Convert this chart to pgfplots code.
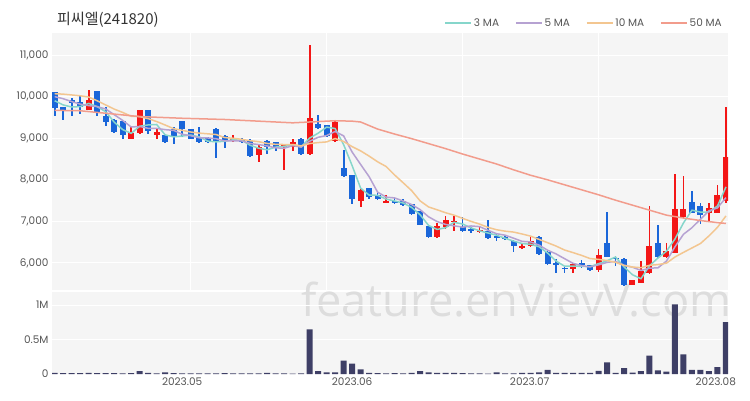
\documentclass[border=0pt]{standalone}
\usepackage{fontspec}
\setmainfont{Poppins}
\newfontfamily\kr{Noto Sans CJK KR}
\newfontfamily\wm{Open Sans}
\usepackage{graphicx}
\usepackage{pgfplots}
\usepackage{pgfplotstable}
\pgfplotsset{compat=1.18}

\definecolor{upred}{HTML}{F31616}
\definecolor{downblue}{HTML}{1A66D9}
\definecolor{maA}{HTML}{86D6CB}
\definecolor{maB}{HTML}{B6A2D2}
\definecolor{maC}{HTML}{F3C690}
\definecolor{maD}{HTML}{F29C8C}
\definecolor{bggray}{HTML}{F5F5F5}
\definecolor{volc}{HTML}{3E3F66}
\definecolor{tickgray}{HTML}{555555}
\definecolor{wmgray}{HTML}{DDDDDD}

% rising days: index, open, high, low, close, volume
\pgfplotstableread{
i o h l c v
4 9690 10170 9670 9910 15000
9 8990 9280 8970 9120 12000
10 9120 9690 9100 9670 40000
12 9070 9230 8970 9150 8000
21 8940 9070 8920 9010 8000
24 8600 8870 8420 8800 8000
27 8790 8870 8240 8850 8000
28 8780 8980 8700 8900 6000
30 8620 11230 8600 9490 648000
33 8940 9410 8920 9390 25000
36 7490 7810 7350 7760 68000
39 7450 7630 7440 7490 10000
45 6620 6960 6610 6880 15000
46 6870 7140 6820 7040 15000
47 6990 7120 6760 7010 15000
50 6740 6890 6720 6800 8000
55 6360 6450 6340 6420 15000
56 6400 6640 6380 6530 15000
61 5850 6010 5770 5970 15000
64 5820 6330 5790 6190 45000
68 5480 5600 5460 5580 20000
69 5530 6040 5520 5800 40000
70 5760 7370 5740 6420 266000
72 6140 6480 6120 6290 34000
73 6250 8150 6230 7300 1010000
74 7100 8090 7080 7300 285000
77 7200 7440 6990 7310 40000
78 7210 7880 7200 7640 100000
79 7490 9760 7450 8540 754000
}\upc

% falling days
\pgfplotstableread{
i o h l c v
0 10120 10120 9530 9730 15000
1 9750 9760 9440 9680 12000
2 9920 9970 9530 9840 12000
3 9870 10010 9590 9760 14000
5 10130 10130 9530 9610 12000
6 9530 9760 9290 9390 14000
7 9430 9470 9120 9160 12000
8 9410 9410 8970 9070 10000
11 9690 9690 9100 9170 15000
13 9070 9110 8880 8920 25000
14 9210 9270 8860 9030 12000
15 9410 9410 9040 9210 10000
16 9210 9230 8970 8990 10000
17 9030 9270 8890 8900 8000
18 9000 9030 8890 8900 8000
19 9230 9240 8530 8940 10000
20 9050 9070 8770 8940 12000
22 8990 9000 8890 8900 8000
23 8940 8970 8560 8580 10000
25 8940 8960 8610 8780 15000
26 8900 8900 8700 8780 8000
29 8980 9000 8600 8620 8000
31 9350 9570 9220 9250 40000
32 9310 9310 9040 9060 25000
34 8290 8710 8070 8090 193000
35 8110 8110 7410 7550 149000
37 7800 7800 7550 7590 15000
38 7630 7680 7510 7530 12000
40 7500 7560 7410 7450 12000
41 7490 7530 7370 7390 10000
42 7410 7420 7150 7170 15000
43 7250 7260 6910 6920 40000
44 6900 6910 6610 6620 25000
48 6860 7110 6750 6760 12000
49 6820 6860 6720 6760 10000
51 6760 7040 6580 6600 5000
52 6660 6700 6530 6600 25000
53 6620 6650 6560 6580 8000
54 6530 6560 6270 6400 8000
57 6620 6640 6200 6220 25000
58 6270 6290 5950 5970 60000
59 5990 6090 5770 5950 15000
60 5890 5930 5770 5850 15000
62 5990 6070 5870 5940 15000
63 5940 5950 5810 5820 15000
65 6480 7220 6140 6150 170000
66 6130 6170 5920 6090 15000
67 6090 6110 5450 5480 87000
71 6480 6910 6120 6140 54000
75 7460 7720 7200 7210 59000
76 7360 7440 6930 7160 59000
}\dnc

% moving averages 3, 5, 10
\pgfplotstableread{
i m3 m5 m10
0 9900 10000 10070
1 9800 9950 10060
2 9750 9880 10040
3 9760 9820 10020
4 9837 9784 9990
5 9760 9760 9900
6 9637 9702 9800
7 9387 9566 9700
8 9207 9428 9620
9 9117 9270 9527
10 9287 9282 9521
11 9320 9238 9470
12 9330 9236 9401
13 9080 9206 9317
14 9033 9188 9229
15 9053 9096 9189
16 9077 9060 9149
17 9033 9010 9123
18 8930 9006 9106
19 8913 8988 9088
20 8927 8934 9015
21 8963 8938 8999
22 8950 8938 8974
23 8830 8874 8940
24 8760 8846 8917
25 8720 8814 8874
26 8787 8768 8853
27 8803 8758 8848
28 8843 8822 8848
29 8790 8786 8816
30 9003 8928 8871
31 9120 9022 8895
32 9267 9064 8911
33 9233 9162 8992
34 8847 9056 8921
35 8343 8668 8798
36 7800 8370 8696
37 7633 8076 8570
38 7627 7704 8433
39 7537 7584 8320
40 7490 7564 8116
41 7443 7490 7930
42 7337 7406 7741
43 7160 7284 7494
44 6903 7110 7347
45 6807 6996 7280
46 6847 6926 7208
47 6977 6894 7150
48 6937 6862 7073
49 6843 6890 7000
50 6773 6874 6935
51 6720 6786 6856
52 6667 6704 6799
53 6593 6668 6765
54 6527 6596 6743
55 6467 6520 6697
56 6450 6506 6646
57 6390 6430 6567
58 6240 6308 6488
59 6047 6218 6407
60 5923 6104 6312
61 5923 5992 6249
62 5920 5936 6183
63 5910 5906 6107
64 5983 5954 6086
65 6053 6014 6059
66 6143 6038 6015
67 5907 5946 5941
68 5717 5898 5902
69 5620 5820 5887
70 5933 5874 5944
71 6120 5884 5961
72 6283 6046 5996
73 6577 6390 6144
74 6963 6690 6255
75 7270 6848 6361
76 7223 7052 6468
77 7227 7256 6651
78 7370 7324 6857
79 7830 7572 7131
}\mas

% 50 day average
\pgfplotstableread{
i m50
0 9670
3 9660
6 9600
10 9520
15 9480
20 9450
25 9400
28 9370
31 9400
33 9420
35 9410
36 9390
38 9220
40 9100
42 8990
44 8870
46 8750
48 8620
50 8500
52 8380
54 8240
56 8110
58 8000
60 7880
62 7760
64 7640
66 7510
68 7390
70 7270
72 7150
74 7080
76 7020
78 6970
79 6950
}\maslow

\pgfplotsset{
  candle/.style 2 args={draw=none, forget plot,
    error bars/.cd, y dir=both, y explicit, error mark=none,
    error bar style={draw=#1, line width=#2}, /pgfplots/.cd},
}

\begin{document}
\begin{tikzpicture}
\path (0,0) rectangle (750pt,400pt);
% panel backgrounds and watermark, below the axes
\fill[bggray] (52pt,110pt) rectangle (728pt,367pt);
\fill[bggray] (52pt,26pt) rectangle (728pt,108pt);
\node[anchor=base west, inner sep=0pt, text=wmgray] at (301pt,84pt)
    {\resizebox{430pt}{!}{\wm feature.enVievV.com}};

\node[anchor=west, text=black!80, font=\kr\fontsize{15}{18}\selectfont, inner sep=0pt] at (57pt,380pt) {피씨엘(241820)};

\begin{axis}[
    at={(52pt,110pt)}, anchor=south west,
    scale only axis, width=676pt, height=257pt,
    xmin=-0.32, xmax=79.24,
    ymin=5350, ymax=11530,
    axis line style={draw=none},
    major tick length=0pt,
    xtick={16,32,48,64}, xticklabels={},
    ytick={6000,7000,8000,9000,10000,11000},
    scaled y ticks=false,
    xmajorgrids, ymajorgrids,
    grid style={white, line width=1pt},
    yticklabel style={font=\fontsize{10.5}{12}\selectfont, text=tickgray,
        /pgf/number format/.cd, fixed, precision=0, 1000 sep={,}, assume math mode=true},
    legend style={at={(1,1)}, anchor=south east, xshift=-4pt, yshift=3pt,
        draw=none, fill=none, inner sep=0pt,
        font=\fontsize{10.5}{12}\selectfont, text=tickgray,
        /tikz/every even column/.append style={column sep=14pt}},
    legend columns=-1,
    legend image code/.code={\draw[#1, line width=1.4pt] (0pt,0pt) -- (26pt,0pt);},
]
% wicks
\addplot[candle={upred}{1.8pt}]
    table[x=i, y expr={(\thisrow{h}+\thisrow{l})/2}, y error expr={(\thisrow{h}-\thisrow{l})/2}] {\upc};
\addplot[candle={downblue}{1.8pt}]
    table[x=i, y expr={(\thisrow{h}+\thisrow{l})/2}, y error expr={(\thisrow{h}-\thisrow{l})/2}] {\dnc};
% bodies
\addplot[candle={upred}{6pt}]
    table[x=i, y expr={(\thisrow{o}+\thisrow{c})/2}, y error expr={max(abs(\thisrow{c}-\thisrow{o})/2,15)}] {\upc};
\addplot[candle={downblue}{6pt}]
    table[x=i, y expr={(\thisrow{o}+\thisrow{c})/2}, y error expr={max(abs(\thisrow{c}-\thisrow{o})/2,15)}] {\dnc};

\addplot[maA, line width=1.5pt] table[x=i, y=m3] {\mas};
\addlegendentry{3 MA}
\addplot[maB, line width=1.5pt] table[x=i, y=m5] {\mas};
\addlegendentry{5 MA}
\addplot[maC, line width=1.5pt] table[x=i, y=m10] {\mas};
\addlegendentry{10 MA}
\addplot[maD, line width=1.5pt] table[x=i, y=m50] {\maslow};
\addlegendentry{50 MA}
\end{axis}

\begin{axis}[
    at={(52pt,26pt)}, anchor=south west,
    scale only axis, width=676pt, height=82pt,
    xmin=-0.32, xmax=79.24,
    ymin=0, ymax=1190000,
    axis line style={draw=none},
    major tick length=0pt,
    scaled y ticks=false,
    ytick={0,500000,1000000}, yticklabels={0,0.5M,1M},
    xtick={15,35,55.9,77.8}, xticklabels={2023.05,2023.06,2023.07,2023.08},
    ymajorgrids,
    grid style={white, line width=1pt},
    tick label style={font=\fontsize{10.5}{12}\selectfont, text=tickgray},
]
\addplot[ybar, bar width=6pt, fill=volc, draw=none] table[x=i, y=v] {\upc};
\addplot[ybar, bar width=6pt, fill=volc, draw=none] table[x=i, y=v] {\dnc};
\end{axis}
\end{tikzpicture}
\end{document}
